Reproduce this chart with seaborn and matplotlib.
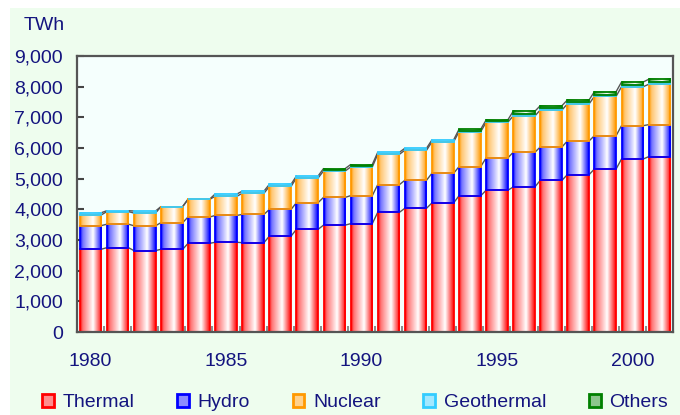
import numpy as np
import pandas as pd
import matplotlib
matplotlib.use("Agg")
import matplotlib.pyplot as plt
import seaborn as sns
from matplotlib.colors import LinearSegmentedColormap, to_rgb
from matplotlib.patches import Patch, Rectangle
from matplotlib.ticker import FuncFormatter, FixedLocator

years = list(range(1980, 2002))
thermal = [2700, 2750, 2655, 2696, 2891, 2925, 2913, 3125, 3348, 3485, 3533,
           3902, 4033, 4207, 4440, 4620, 4728, 4946, 5130, 5315, 5641, 5717]
hydro = [770, 765, 810, 870, 860, 875, 922, 870, 870, 905, 913,
         902, 913, 967, 951, 1054, 1131, 1087, 1098, 1087, 1087, 1044]
nuclear = [350, 410, 415, 520, 575, 625, 687, 750, 805, 860, 934,
           990, 979, 1022, 1137, 1163, 1184, 1206, 1207, 1283, 1271, 1315]
geothermal = [70, 30, 65, 5, 10, 75, 70, 70, 65, 30, 30,
              65, 65, 65, 30, 30, 50, 50, 50, 52, 53, 63]
others = [0, 0, 0, 0, 0, 0, 0, 0, 0, 50, 50,
          0, 0, 0, 50, 46, 103, 91, 80, 100, 100, 100]
series_names = ["Thermal", "Hydro", "Nuclear", "Geothermal", "Others"]
series_values = [thermal, hydro, nuclear, geothermal, others]
series_colors = ["#FF0000", "#0000FF", "#FF9900", "#33CCFF", "#008000"]
year_labels = ["1980", "1985", "1990", "1995", "2000"]

TEXT = "#14147F"
FONT = ["Liberation Sans", "DejaVu Sans"]

sns.set_theme(style="white")
plt.rcParams["font.family"] = FONT
plt.rcParams["font.size"] = 14

fig = plt.figure(figsize=(6.8, 4.15), dpi=100, facecolor="white")
fig.patches.append(Rectangle((10 / 680, 0), 1, 1 - 8 / 415, transform=fig.transFigure,
                             facecolor="#EEFDEE", edgecolor="none", zorder=-10))
ax = fig.add_axes([77 / 680, 83 / 415, 596 / 680, 276 / 415])
ax.set_facecolor("#F5FFFD")

df = pd.DataFrame({"year": [str(y) for y in years]})
bottom = np.zeros(len(years))
layer_patches = []
for name, vals, col in zip(series_names, series_values, series_colors):
    n_before = len(ax.patches)
    sns.barplot(x=df["year"], y=np.array(vals, dtype=float), bottom=bottom, color=col,
                width=0.8, ax=ax, saturation=1, edgecolor=col, linewidth=1.3, zorder=3)
    layer_patches.append(ax.patches[n_before:])
    bottom = bottom + np.array(vals, dtype=float)

# gradient fills
for patches, col in zip(layer_patches, series_colors):
    c = to_rgb(col)
    cmap = LinearSegmentedColormap.from_list(
        "g", [(0.0, c), (0.12, tuple(0.45 + 0.55 * v for v in c)),
              (0.6, (1, 1, 1)), (0.85, tuple(0.4 + 0.6 * v for v in c)), (1.0, c)])
    grad = np.linspace(0, 1, 64).reshape(1, -1)
    for p in patches:
        x0, y0 = p.get_x(), p.get_y()
        w, h = p.get_width(), p.get_height()
        p.set_facecolor("none")
        p.set_zorder(4)
        if h <= 0:
            p.set_edgecolor("none")
            continue
        ax.imshow(grad, extent=[x0, x0 + w, y0, y0 + h], aspect="auto", cmap=cmap,
                  zorder=3, interpolation="bilinear", origin="lower")

# series connector lines
top_patches = []
for i in range(len(years)):
    top_patches.append(max((lp[i] for lp in layer_patches), key=lambda p: p.get_y() + p.get_height()))
for patches in layer_patches[:3] + [top_patches]:
    for a, b in zip(patches[:-1], patches[1:]):
        ta = a.get_y() + a.get_height()
        tb = b.get_y() + b.get_height()
        ax.plot([a.get_x() + a.get_width(), b.get_x()], [ta, tb], color="#555555",
                lw=1.0, zorder=2.5)

ax.set_xlim(-0.5, len(years) - 0.5)
ax.set_ylim(0, 9000)
ax.set_yticks(np.arange(0, 9001, 1000))
ax.yaxis.set_major_formatter(FuncFormatter(lambda v, p: f"{int(v):,}"))
pos = [years.index(int(s)) for s in year_labels]
ax.set_xticks(pos)
ax.set_xticklabels(year_labels)
ax.xaxis.set_minor_locator(FixedLocator(np.arange(0.5, len(years) - 1, 1)))
ax.tick_params(axis="x", which="major", length=0, pad=15, labelsize=14, labelcolor=TEXT)
ax.tick_params(axis="x", which="minor", direction="in", length=4, width=1.2, color="#777777", bottom=True)
ax.tick_params(axis="y", direction="in", length=5, width=1.5, color="#444444", left=True,
               pad=10, labelsize=14, labelcolor=TEXT)
ax.set_xlabel("")
ax.set_ylabel("")
for s in ax.spines.values():
    s.set_visible(True)
    s.set_color("#555555")
    s.set_linewidth(1.6)
    s.set_zorder(6)

fig.text(24 / 680, 1 - 25 / 415, "TWh", ha="left", va="center", fontsize=14, color=TEXT)

handles = [Patch(facecolor=tuple(0.55 + 0.45 * v for v in to_rgb(c)), edgecolor=c, lw=2)
           for c in series_colors]
fig.legend(handles, series_names, loc="center", bbox_to_anchor=(0.522, 0.03), ncol=5,
           frameon=False, handlelength=0.6, handleheight=0.7, handletextpad=0.45,
           columnspacing=2.2, fontsize=14, labelcolor=TEXT)

fig.savefig("out.png", dpi=100, facecolor=fig.get_facecolor())
